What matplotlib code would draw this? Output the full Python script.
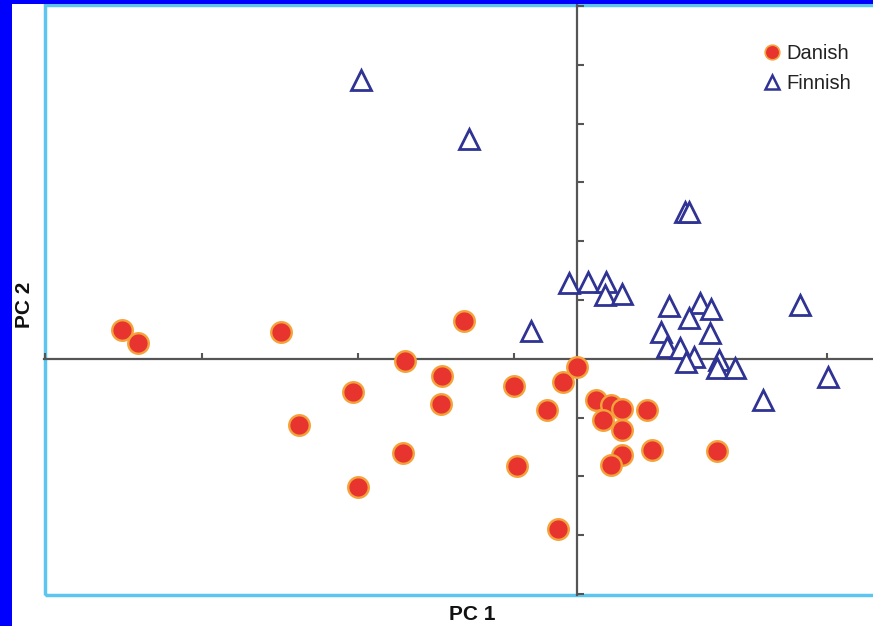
import matplotlib
matplotlib.use('Agg')
import matplotlib.pyplot as plt
from matplotlib.lines import Line2D
from matplotlib.patches import Rectangle

plt.rcParams['font.family'] = ['Liberation Sans', 'DejaVu Sans']

# PCA scores
danish_pc1 = [-2.91, -2.81, -1.89, -0.72, -1.10, -0.86, -1.43, -0.87, -1.78,
              -1.11, -1.40, -0.40, -0.09, 0.00, -0.19, -0.38, -0.12, 0.12,
              0.22, 0.29, 0.45, 0.17, 0.29, 0.29, 0.48, 0.22, 0.90]
danish_pc2 = [0.49, 0.27, 0.46, 0.65, -0.03, -0.29, -0.56, -0.77, -1.12,
              -1.60, -2.18, -0.46, -0.39, -0.14, -0.87, -1.82, -2.89, -0.71,
              -0.78, -0.85, -0.88, -1.05, -1.22, -1.63, -1.55, -1.80, -1.57]

finnish_pc1 = [-1.38, -0.69, 0.69, 0.72, -0.05, 0.07, 0.19, 0.18, 0.29,
               -0.29, 0.59, 0.79, 0.86, 0.72, 0.54, 0.85, 0.58, 0.66,
               0.75, 0.70, 0.91, 0.90, 1.01, 1.43, 1.61, 1.19]
finnish_pc2 = [4.75, 3.74, 2.50, 2.50, 1.29, 1.31, 1.31, 1.09, 1.11,
               0.48, 0.90, 0.95, 0.85, 0.70, 0.46, 0.44, 0.20, 0.19,
               0.03, -0.05, -0.02, -0.15, -0.15, 0.92, -0.31, -0.70]

xticks = [-3.4, -2.4, -1.4, -0.4, 0.6, 1.6]
yticks = [-4, -3, -2, -1, 1, 2, 3, 4, 5, 6]

red = '#e8342f'
orange = '#f4a23a'
navy = '#2f3393'
cyan = '#5cc6ee'
gray = '#555555'

fig = plt.figure(figsize=(8.73, 6.26), dpi=100)
fig.patch.set_facecolor('white')

# blue strips at the left and top edge
fig.patches.append(Rectangle((0, 0), 12 / 873, 1, transform=fig.transFigure,
                             facecolor='#0000ff', edgecolor='none', zorder=10))
fig.patches.append(Rectangle((0, 1 - 4 / 626), 1, 4 / 626, transform=fig.transFigure,
                             facecolor='#0000ff', edgecolor='none', zorder=10))

ax = fig.add_axes([44.5 / 873, 31 / 626, (873 - 44.5) / 873, 590 / 626])
ax.set_xlim(-3.405, 1.895)
ax.set_ylim(-4.02, 6.02)

# cyan frame (right side is cut off in the original)
ax.add_patch(Rectangle((0, 0), 1.2, 1, transform=ax.transAxes, fill=False,
                       edgecolor=cyan, lw=2.5, clip_on=False, zorder=0))
ax.spines['top'].set_visible(False)
ax.spines['right'].set_visible(False)

# axes through the origin
for side in ['left', 'bottom']:
    ax.spines[side].set_position(('data', 0))
    ax.spines[side].set_color(gray)
    ax.spines[side].set_linewidth(1.6)
    ax.spines[side].set_zorder(1)

ax.set_xticks(xticks)
ax.set_yticks(yticks)
ax.tick_params(axis='x', direction='in', length=4.5, width=1.5, color=gray, labelbottom=False)
ax.tick_params(axis='y', direction='in', length=5, width=1.5, color=gray, labelleft=False)

ax.plot(danish_pc1, danish_pc2, 'o', ms=14.8, mfc=red, mec=orange, mew=1.7,
        linestyle='none', zorder=3)
ax.plot(finnish_pc1, finnish_pc2, '^', ms=14, mfc='white', mec=navy, mew=2.0,
        linestyle='none', zorder=4)

handles = [Line2D([], [], marker='o', ls='none', ms=10.5, mfc=red, mec=orange, mew=1.2),
           Line2D([], [], marker='^', ls='none', ms=10.5, mfc='white', mec=navy, mew=1.8)]
fig.legend(handles, ['Danish', 'Finnish'], loc='upper left',
           bbox_to_anchor=(762 / 873, 1 - 44 / 626), frameon=False, fontsize=14.5,
           handlelength=1.0, handletextpad=0.2, borderpad=0, borderaxespad=0,
           labelspacing=0.55, labelcolor='#222222')

fig.text(472 / 873, 1 - 615 / 626, 'PC 1', ha='center', va='center',
         fontsize=15, fontweight='bold', color='#111111')
fig.text(25 / 873, 1 - 305 / 626, 'PC 2', ha='center', va='center',
         fontsize=15, fontweight='bold', rotation=90, color='#111111')

fig.savefig('out.png', dpi=100)
